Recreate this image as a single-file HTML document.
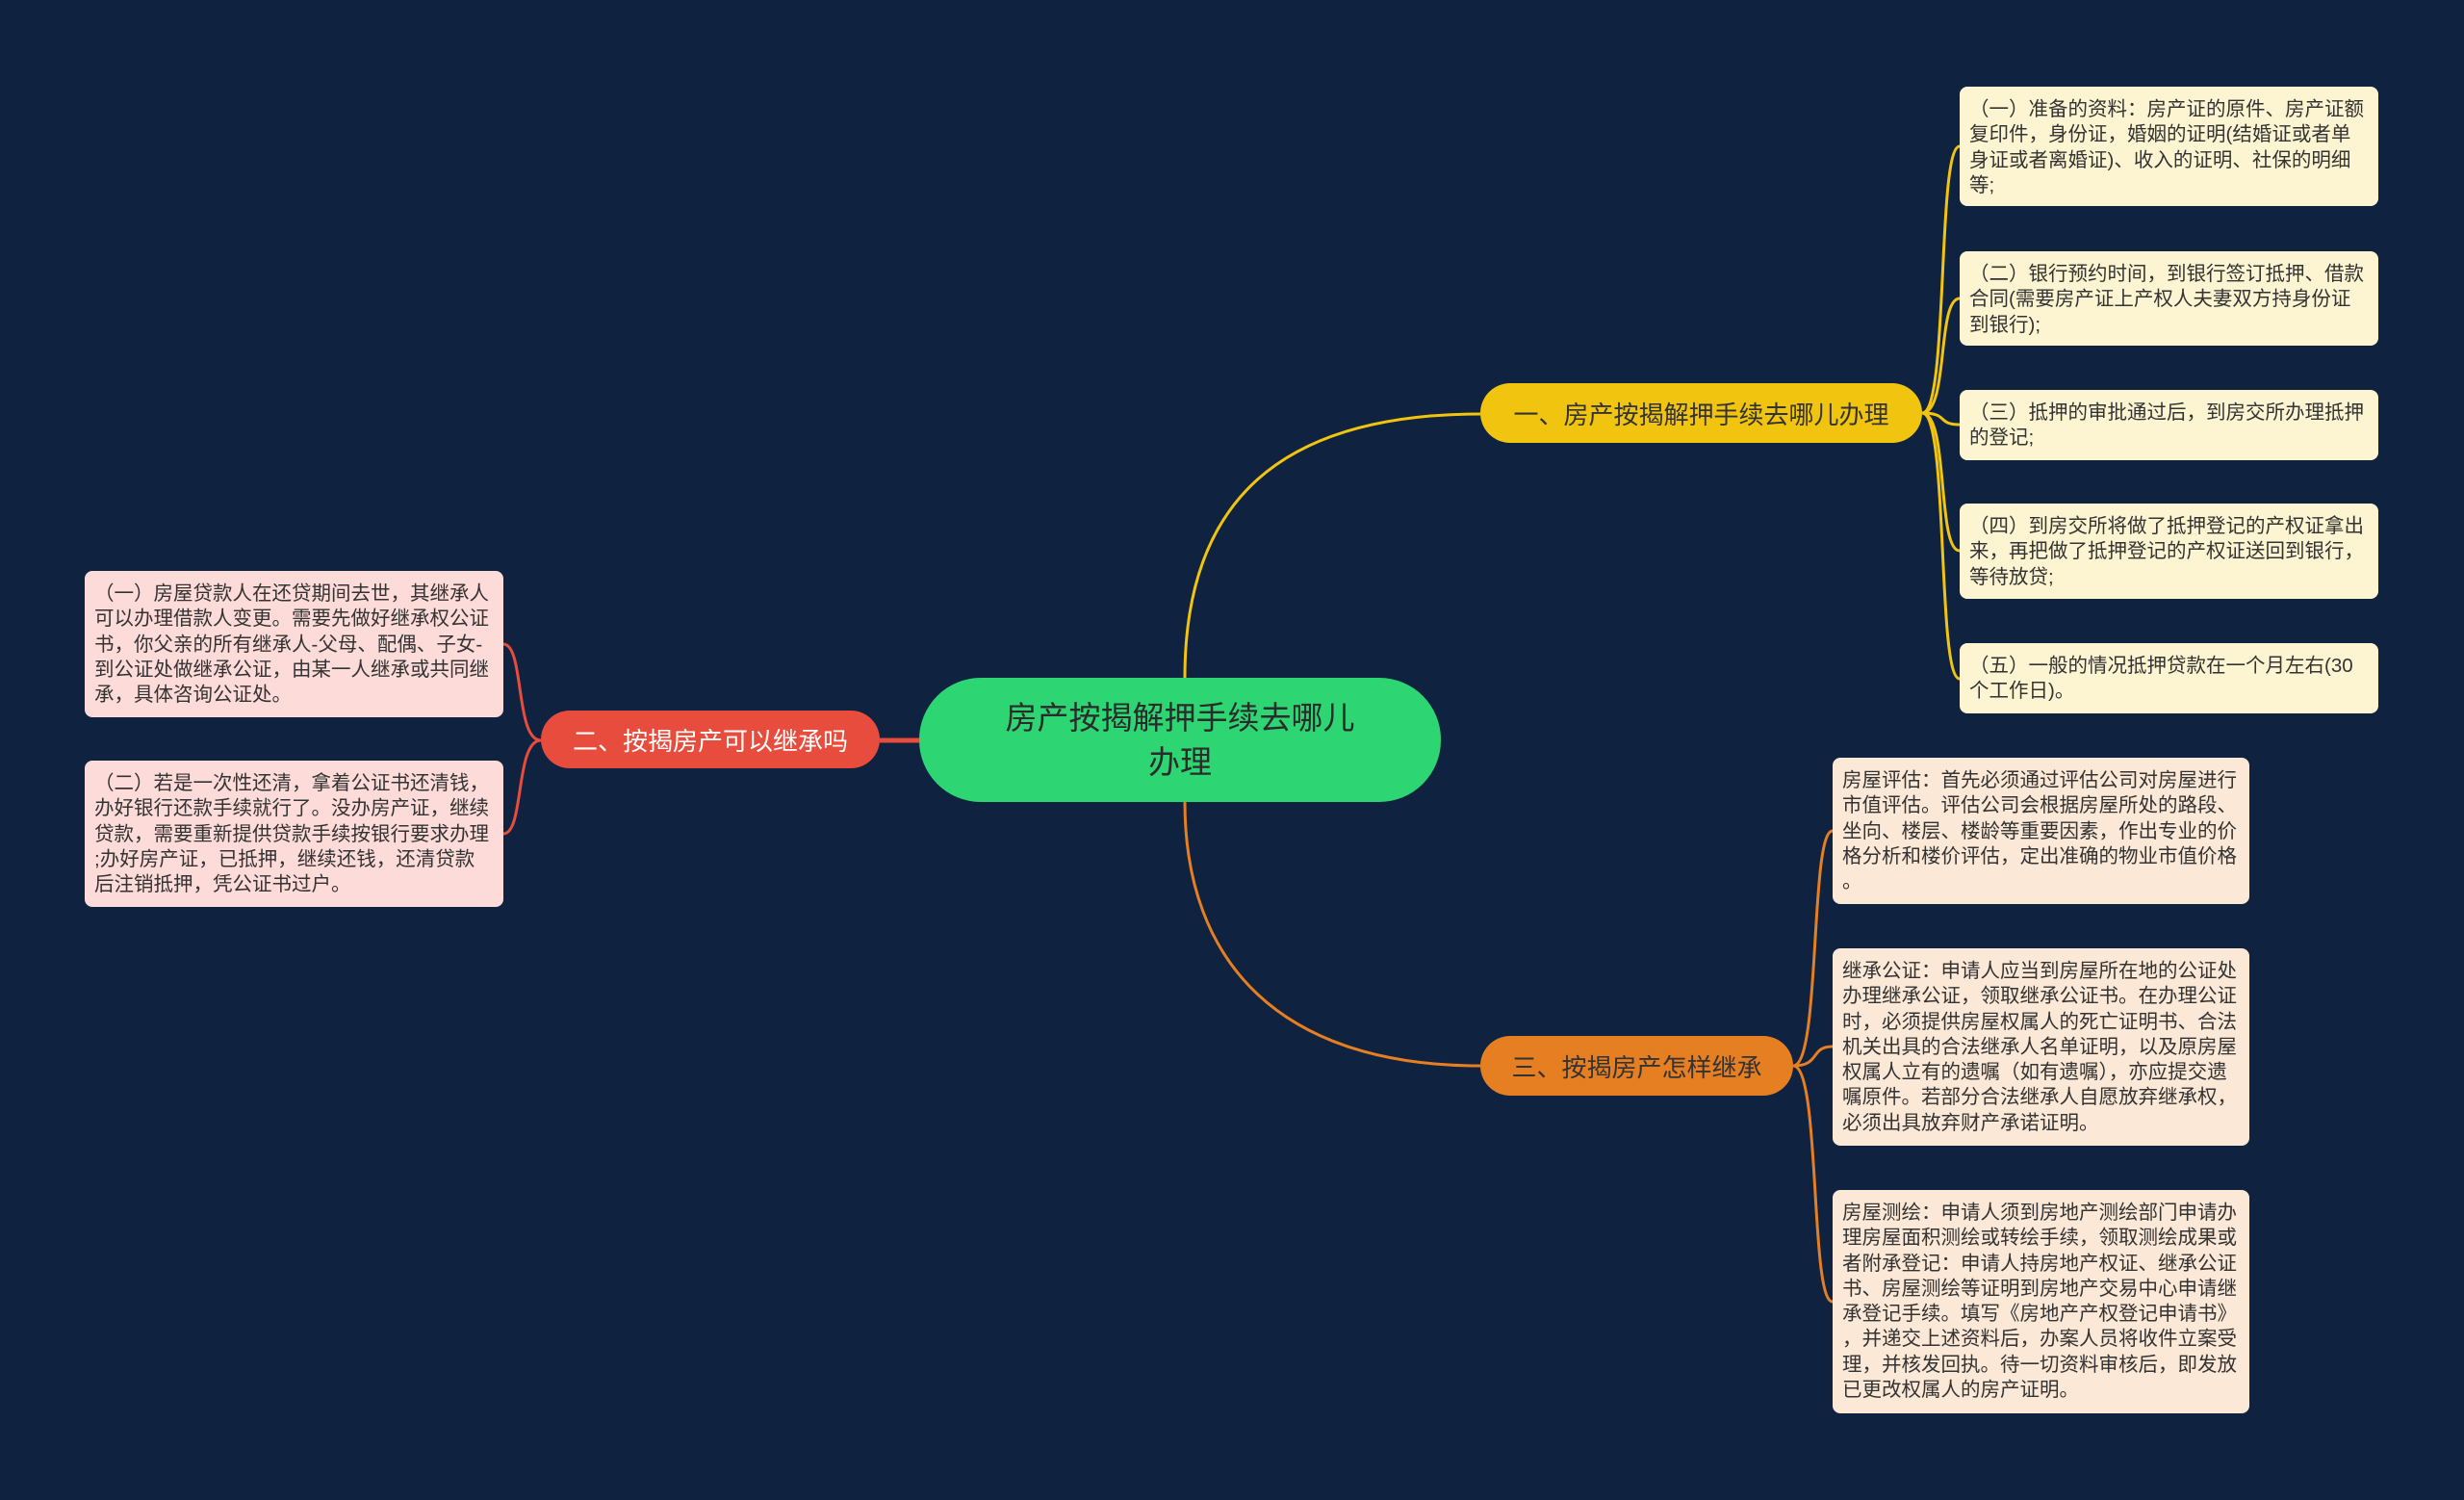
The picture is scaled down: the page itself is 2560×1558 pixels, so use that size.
<!DOCTYPE html>
<html><head><meta charset="utf-8"><style>
body{margin:0;width:2560px;height:1558px;background:#0f2240;overflow:hidden;position:relative;font-family:"Liberation Sans","Noto Sans CJK SC",sans-serif;}
.n{position:absolute;box-sizing:border-box;display:flex;align-items:center;justify-content:center;text-align:center;}
.leaf{position:absolute;box-sizing:border-box;border-radius:8px;padding:11px 10px;font-size:20.5px;line-height:26.3px;color:#333;white-space:nowrap;overflow:hidden;}
.y{background:#fdf5d2;}
.o{background:#fce8d6;}
.r{background:#fddbd9;}
</style></head><body>
<svg width="2560" height="1558" style="position:absolute;left:0;top:0" fill="none">
<path d="M1231 704 C1231 520 1330 430 1538 430" stroke="#f1c40f" stroke-width="3"/>
<path d="M1231 833 C1231 1000 1330 1107 1538 1107" stroke="#e67e22" stroke-width="3"/>
<path d="M955 769 L914 769" stroke="#e74c3c" stroke-width="5"/>
<g stroke="#f1c40f" stroke-width="3">
<path d="M1997 429 C2025 429 2012 152 2036 152"/>
<path d="M1997 429 C2025 429 2012 310 2036 310"/>
<path d="M1997 429 C2025 429 2012 441 2036 441"/>
<path d="M1997 429 C2025 429 2012 572 2036 572"/>
<path d="M1997 429 C2025 429 2012 705 2036 705"/>
</g>
<g stroke="#e67e22" stroke-width="3">
<path d="M1863 1107 C1892 1107 1880 863 1904 863"/>
<path d="M1863 1107 C1892 1107 1880 1087 1904 1087"/>
<path d="M1863 1107 C1892 1107 1880 1352 1904 1352"/>
</g>
<g stroke="#e74c3c" stroke-width="3">
<path d="M562 769 C535 769 545 669 523 669"/>
<path d="M562 769 C535 769 545 866 523 866"/>
</g>
</svg>
<div class="n" style="left:955px;top:704px;width:542px;height:129px;background:#2ed573;border-radius:64px;font-size:33px;line-height:46px;color:#2b2b2b;">房产按揭解押手续去哪儿<br>办理</div>
<div class="n" style="left:1538px;top:398px;width:459px;height:62px;background:#f1c40f;border-radius:31px;font-size:26px;color:#333;">一、房产按揭解押手续去哪儿办理</div>
<div class="n" style="left:562px;top:738px;width:352px;height:60px;background:#e74c3c;border-radius:30px;font-size:26px;color:#fff;">二、按揭房产可以继承吗</div>
<div class="n" style="left:1538px;top:1076px;width:325px;height:62px;background:#e67e22;border-radius:31px;font-size:26px;color:#333;">三、按揭房产怎样继承</div>

<div class="leaf y" style="left:2036px;top:90px;width:435px;height:124px;">（一）准备的资料：房产证的原件、房产证额<br>复印件，身份证，婚姻的证明(结婚证或者单<br>身证或者离婚证)、收入的证明、社保的明细<br>等;</div>
<div class="leaf y" style="left:2036px;top:261px;width:435px;height:98px;">（二）银行预约时间，到银行签订抵押、借款<br>合同(需要房产证上产权人夫妻双方持身份证<br>到银行);</div>
<div class="leaf y" style="left:2036px;top:405px;width:435px;height:73px;">（三）抵押的审批通过后，到房交所办理抵押<br>的登记;</div>
<div class="leaf y" style="left:2036px;top:523px;width:435px;height:99px;">（四）到房交所将做了抵押登记的产权证拿出<br>来，再把做了抵押登记的产权证送回到银行，<br>等待放贷;</div>
<div class="leaf y" style="left:2036px;top:668px;width:435px;height:73px;">（五）一般的情况抵押贷款在一个月左右(30<br>个工作日)。</div>

<div class="leaf o" style="left:1904px;top:787px;width:433px;height:152px;">房屋评估：首先必须通过评估公司对房屋进行<br>市值评估。评估公司会根据房屋所处的路段、<br>坐向、楼层、楼龄等重要因素，作出专业的价<br>格分析和楼价评估，定出准确的物业市值价格<br>。</div>
<div class="leaf o" style="left:1904px;top:985px;width:433px;height:205px;">继承公证：申请人应当到房屋所在地的公证处<br>办理继承公证，领取继承公证书。在办理公证<br>时，必须提供房屋权属人的死亡证明书、合法<br>机关出具的合法继承人名单证明，以及原房屋<br>权属人立有的遗嘱（如有遗嘱），亦应提交遗<br>嘱原件。若部分合法继承人自愿放弃继承权，<br>必须出具放弃财产承诺证明。</div>
<div class="leaf o" style="left:1904px;top:1236px;width:433px;height:232px;">房屋测绘：申请人须到房地产测绘部门申请办<br>理房屋面积测绘或转绘手续，领取测绘成果或<br>者附承登记：申请人持房地产权证、继承公证<br>书、房屋测绘等证明到房地产交易中心申请继<br>承登记手续。填写《房地产产权登记申请书》<br>，并递交上述资料后，办案人员将收件立案受<br>理，并核发回执。待一切资料审核后，即发放<br>已更改权属人的房产证明。</div>

<div class="leaf r" style="left:88px;top:593px;width:435px;height:152px;">（一）房屋贷款人在还贷期间去世，其继承人<br>可以办理借款人变更。需要先做好继承权公证<br>书，你父亲的所有继承人-父母、配偶、子女-<br>到公证处做继承公证，由某一人继承或共同继<br>承，具体咨询公证处。</div>
<div class="leaf r" style="left:88px;top:790px;width:435px;height:152px;">（二）若是一次性还清，拿着公证书还清钱，<br>办好银行还款手续就行了。没办房产证，继续<br>贷款，需要重新提供贷款手续按银行要求办理<br>;办好房产证，已抵押，继续还钱，还清贷款<br>后注销抵押，凭公证书过户。</div>
</body></html>
